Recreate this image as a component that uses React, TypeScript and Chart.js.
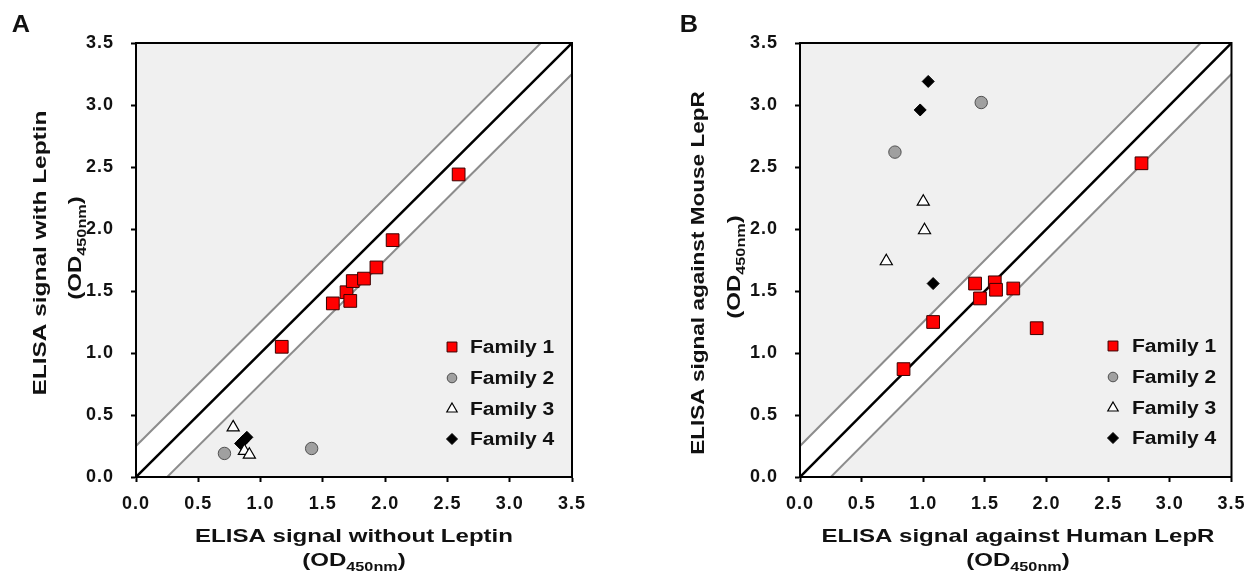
import React, { useEffect, useRef } from 'react';
import { Chart, registerables } from 'chart.js';
import { drawPoint } from 'chart.js/helpers';

Chart.register(...registerables);

const FONT = '"Liberation Sans", Arial, sans-serif';

// ---------- shared axis data ----------
const tickValues = [0, 0.5, 1, 1.5, 2, 2.5, 3, 3.5];
const tickLabels = ['0.0', '0.5', '1.0', '1.5', '2.0', '2.5', '3.0', '3.5'];
const familyNames = ['Family 1', 'Family 2', 'Family 3', 'Family 4'];

// reference lines: y = x and y = x ± 0.25
const refX = [0, 3.5];
const bandHalfWidth = 0.25;

// ---------- panel A: with vs without leptin ----------
const aF1x = [1.17, 1.58, 1.69, 1.72, 1.74, 1.83, 1.93, 2.06, 2.59];
const aF1y = [1.05, 1.40, 1.49, 1.42, 1.58, 1.60, 1.69, 1.91, 2.44];
const aF2x = [0.71, 1.41];
const aF2y = [0.19, 0.23];
const aF3x = [0.78, 0.87, 0.91];
const aF3y = [0.40, 0.21, 0.18];
const aF4x = [0.84, 0.86, 0.89];
const aF4y = [0.27, 0.29, 0.32];

// ---------- panel B: mouse vs human LepR ----------
const bF1x = [0.84, 1.08, 1.42, 1.46, 1.58, 1.59, 1.73, 1.92, 2.77];
const bF1y = [0.87, 1.25, 1.56, 1.44, 1.57, 1.51, 1.52, 1.20, 2.53];
const bF2x = [0.77, 1.47];
const bF2y = [2.62, 3.02];
const bF3x = [0.70, 1.00, 1.01];
const bF3y = [1.74, 2.22, 1.99];
const bF4x = [1.04, 0.975, 1.08];
const bF4y = [3.19, 2.96, 1.56];

// ---------- styles ----------
const familyStyles = [
  { pointStyle: 'rect', radius: 9, bg: '#ff0000', border: '#3a0000', bw: 1, legendRadius: 7 },
  { pointStyle: 'circle', radius: 6.2, bg: '#a0a0a0', border: '#505050', bw: 1, legendRadius: 4.8 },
  { pointStyle: 'triangle', radius: 7, bg: '#ffffff', border: '#000000', bw: 1.2, legendRadius: 6 },
  { pointStyle: 'rectRot', radius: 6, bg: '#000000', border: '#000000', bw: 1, legendRadius: 5.5 },
];

type Seg = { text: string; size: number; dy?: number };

function drawRich(
  ctx: CanvasRenderingContext2D,
  segs: Seg[],
  x: number,
  y: number,
  sx: number,
  align: 'center' | 'left',
  rotate = false,
) {
  ctx.save();
  (ctx as any).letterSpacing = '0px';
  let w = 0;
  for (const s of segs) {
    ctx.font = `bold ${s.size}px ${FONT}`;
    w += ctx.measureText(s.text).width;
  }
  ctx.translate(x, y);
  if (rotate) ctx.rotate(-Math.PI / 2);
  ctx.scale(sx, 1);
  let cx = align === 'center' ? -w / 2 : 0;
  ctx.textAlign = 'left';
  ctx.textBaseline = 'alphabetic';
  ctx.fillStyle = '#111111';
  for (const s of segs) {
    ctx.font = `bold ${s.size}px ${FONT}`;
    ctx.fillText(s.text, cx, s.dy || 0);
    cx += ctx.measureText(s.text).width;
  }
  ctx.restore();
}

const odSegs: Seg[] = [
  { text: '(OD', size: 18.5 },
  { text: '450nm', size: 12.5, dy: 5 },
  { text: ')', size: 18.5 },
];

interface PanelSpec {
  letter: string;
  letterX: number;
  xs: number[][];
  ys: number[][];
  xTitle: string;
  yTitle: string;
  yTitleStretch: number;
  yAxisWidth: number;
  padRight: number;
  xTitleX: number;
  yTitle1: [number, number];
  yTitle2: [number, number];
  legendMarkerX: number;
  legendTextX: number;
  legendRows: number[];
}

const panelA: PanelSpec = {
  letter: 'A',
  letterX: 21,
  xs: [aF1x, aF2x, aF3x, aF4x],
  ys: [aF1y, aF2y, aF3y, aF4y],
  xTitle: 'ELISA signal without Leptin',
  yTitle: 'ELISA signal with Leptin',
  yTitleStretch: 1.32,
  yAxisWidth: 136,
  padRight: 55,
  xTitleX: 354,
  yTitle1: [46, 253],
  yTitle2: [81, 248],
  legendMarkerX: 452,
  legendTextX: 470,
  legendRows: [347, 378, 409, 439],
};

const panelB: PanelSpec = {
  letter: 'B',
  letterX: 62,
  xs: [bF1x, bF2x, bF3x, bF4x],
  ys: [bF1y, bF2y, bF3y, bF4y],
  xTitle: 'ELISA signal against Human LepR',
  yTitle: 'ELISA signal against Mouse LepR',
  yTitleStretch: 1.22,
  yAxisWidth: 173,
  padRight: 18,
  xTitleX: 391,
  yTitle1: [77, 273],
  yTitle2: [113, 267],
  legendMarkerX: 486,
  legendTextX: 505,
  legendRows: [346, 377, 408, 438],
};

function makeConfig(p: PanelSpec): any {
  const familyDatasets = familyNames.map((name, i) => {
    const st = familyStyles[i];
    return {
      label: name,
      data: p.xs[i].map((x, j) => ({ x, y: p.ys[i][j] })),
      showLine: false,
      pointStyle: st.pointStyle,
      pointRadius: st.radius,
      pointBackgroundColor: st.bg,
      pointBorderColor: st.border,
      pointBorderWidth: st.bw,
      backgroundColor: st.bg,
      borderColor: st.border,
      order: 0,
    };
  });
  const lineDs = (offset: number, color: string, width: number, order: number, fill: any) => ({
    label: 'ref' + offset,
    data: refX.map((x) => ({ x, y: x + offset })),
    borderColor: color,
    borderWidth: width,
    pointRadius: 0,
    backgroundColor: '#ffffff',
    fill,
    order,
  });
  const datasets = [
    ...familyDatasets,
    lineDs(0, '#000000', 2.5, 1, false),
    lineDs(bandHalfWidth, '#8c8c8c', 2, 3, 6),
    lineDs(-bandHalfWidth, '#8c8c8c', 2, 2, false),
  ];

  const decor = {
    id: 'decor',
    beforeDraw(chart: any) {
      const { ctx, chartArea: a } = chart;
      ctx.save();
      ctx.fillStyle = '#f0f0f0';
      ctx.fillRect(a.left, a.top, a.right - a.left, a.bottom - a.top);
      ctx.restore();
      ctx.letterSpacing = '1px';
    },
    afterDraw(chart: any) {
      const { ctx, chartArea: a } = chart;
      ctx.save();
      ctx.strokeStyle = '#000';
      ctx.lineWidth = 2;
      ctx.strokeRect(a.left, a.top, a.right - a.left, a.bottom - a.top);
      ctx.restore();

      // axis titles
      drawRich(ctx, [{ text: p.xTitle, size: 18.5 }], p.xTitleX, 542, 1.3, 'center');
      drawRich(ctx, odSegs, p.xTitleX, 566, 1.3, 'center');
      drawRich(ctx, [{ text: p.yTitle, size: 18.5 }], p.yTitle1[0], p.yTitle1[1], p.yTitleStretch, 'center', true);
      drawRich(ctx, odSegs, p.yTitle2[0], p.yTitle2[1], 1.3, 'center', true);

      // panel letter
      drawRich(ctx, [{ text: p.letter, size: 23 }], p.letterX, 32, 1.1, 'center');

      // legend
      familyNames.forEach((name, i) => {
        const st = familyStyles[i];
        const cy = p.legendRows[i];
        ctx.save();
        ctx.fillStyle = st.bg;
        ctx.strokeStyle = st.border;
        ctx.lineWidth = st.bw;
        drawPoint(ctx, { pointStyle: st.pointStyle, radius: st.legendRadius, borderWidth: st.bw, rotation: 0 } as any, p.legendMarkerX, cy);
        ctx.restore();
        drawRich(ctx, [{ text: name, size: 18 }], p.legendTextX, cy + 6, 1.17, 'left');
      });
    },
  };

  const axisCommon = (isX: boolean) => ({
    type: 'linear',
    min: 0,
    max: 3.5,
    afterBuildTicks: (scale: any) => {
      scale.ticks = tickValues.map((v) => ({ value: v }));
    },
    ticks: {
      callback: (_v: any, i: number) => tickLabels[i],
      color: '#111111',
      font: { family: FONT, size: 18, weight: 'bold' },
      padding: isX ? 11 : 17,
      maxRotation: 0,
      autoSkip: false,
    },
    grid: {
      drawOnChartArea: false,
      drawTicks: true,
      tickLength: 5,
      tickColor: '#000000',
      tickWidth: 2,
    },
    border: { display: true, color: '#000000', width: 2 },
  });

  return {
    type: 'line',
    data: { datasets },
    options: {
      animation: false,
      responsive: false,
      events: [],
      layout: { padding: { left: 0, top: 43, right: p.padRight, bottom: 0 } },
      plugins: {
        legend: { display: false },
        tooltip: { enabled: false },
        filler: { propagate: false },
      },
      scales: {
        x: {
          ...axisCommon(true),
          afterFit: (s: any) => {
            s.height = 95;
          },
        },
        y: {
          ...axisCommon(false),
          afterFit: (s: any) => {
            s.width = p.yAxisWidth;
          },
        },
      },
    },
    plugins: [decor],
  };
}

function Panel({ left, width, spec }: { left: number; width: number; spec: PanelSpec }) {
  const ref = useRef<HTMLCanvasElement>(null);
  useEffect(() => {
    const chart = new Chart(ref.current as HTMLCanvasElement, makeConfig(spec));
    return () => chart.destroy();
  }, [spec]);
  return (
    <div style={{ position: 'absolute', left, top: 0, width, height: 572 }}>
      <canvas ref={ref} width={width} height={572} style={{ width, height: 572, display: 'block' }} />
    </div>
  );
}

export default function App() {
  return (
    <div style={{ position: 'absolute', left: 0, top: 0, width: 1255, height: 572, background: '#ffffff', overflow: 'hidden' }}>
      <Panel left={0} width={627} spec={panelA} />
      <Panel left={627} width={628} spec={panelB} />
    </div>
  );
}
